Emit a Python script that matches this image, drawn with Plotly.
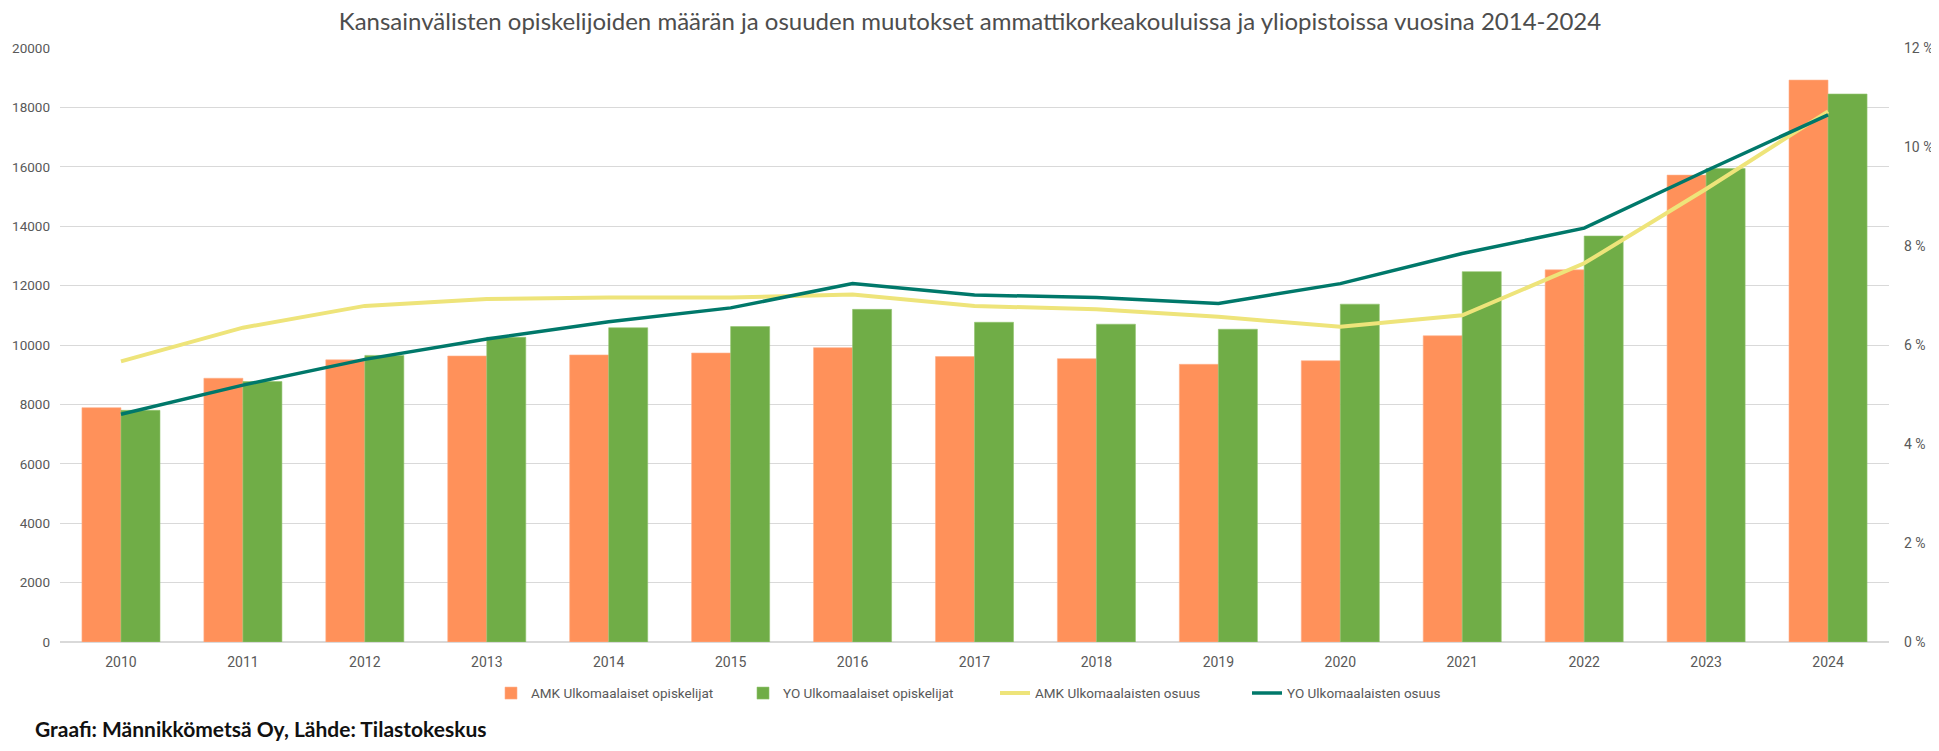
import plotly.graph_objects as go

years = [str(y) for y in range(2010, 2025)]
amk_students = [7890, 8880, 9500, 9630, 9665, 9730, 9910, 9610, 9540, 9350, 9470, 10310, 12530, 15720, 18920]
yo_students = [7800, 8770, 9650, 10260, 10580, 10620, 11200, 10765, 10700, 10530, 11375, 12470, 13670, 15945, 18450]
amk_share = [5.67, 6.35, 6.79, 6.93, 6.96, 6.96, 7.02, 6.79, 6.72, 6.57, 6.37, 6.60, 7.65, 9.15, 10.72]
yo_share = [4.60, 5.19, 5.71, 6.12, 6.47, 6.75, 7.24, 7.01, 6.96, 6.84, 7.24, 7.85, 8.36, 9.52, 10.65]

left_ticks = list(range(0, 20001, 2000))
right_ticks = list(range(0, 13, 2))
right_labels = [f"{v} %" for v in right_ticks]

title_text = "Kansainvälisten opiskelijoiden määrän ja osuuden muutokset ammattikorkeakouluissa ja yliopistoissa vuosina 2014-2024"
source_text = "Graafi: Männikkömetsä Oy, Lähde: Tilastokeskus"

tick_font = dict(family="Roboto, Arial, sans-serif", size=14, color="#595959")
left_tick_font = dict(family="Roboto, Arial, sans-serif", size=13.5, color="#595959")

# page body adds an 8 px offset, so the figure is 8 px smaller than the window
OFF = 8
W, H = 1939 - OFF, 751 - OFF
L, R, T = 60 - OFF, 1939 - 1889, 48 - OFF
BOTTOM_Y = 641.7 - OFF
B = H - BOTTOM_Y
PW, PH = W - L - R, H - T - B

fig = go.Figure()
fig.add_trace(go.Bar(x=years, y=amk_students, name="AMK Ulkomaalaiset opiskelijat",
                     marker=dict(color="#FF915A", line=dict(color="#FFB08A", width=0.6))))
fig.add_trace(go.Bar(x=years, y=yo_students, name="YO Ulkomaalaiset opiskelijat",
                     marker=dict(color="#70AD47", line=dict(color="#92C46E", width=0.6))))
fig.add_trace(go.Scatter(x=years, y=amk_share, name="AMK Ulkomaalaisten osuus", yaxis="y2",
                         mode="lines", line=dict(color="#EEE47A", width=4)))
fig.add_trace(go.Scatter(x=years, y=yo_share, name="YO Ulkomaalaisten osuus", yaxis="y2",
                         mode="lines", line=dict(color="#00786A", width=3.5)))

fig.update_layout(
    width=W, height=H,
    margin=dict(l=L, r=R, t=T, b=B, autoexpand=False),
    paper_bgcolor="white", plot_bgcolor="white",
    barmode="group", bargap=0.36, bargroupgap=0,
    title=dict(text=title_text, x=(970 - OFF) / W, xref="container", xanchor="center",
               y=1 - 14 / H, yref="container", yanchor="middle",
               font=dict(family="Lato, sans-serif", size=24, color="#4D4D4D")),
    xaxis=dict(tickfont=tick_font, showgrid=False, showline=False, ticks="",
               ticklabelstandoff=10, automargin=False),
    yaxis=dict(range=[0, 20000], tickvals=left_ticks, tickformat="d", tickfont=left_tick_font,
               showgrid=True, gridcolor="#D9D9D9", gridwidth=1,
               zeroline=True, zerolinecolor="#D9D9D9", zerolinewidth=2,
               ticklabelstandoff=9, automargin=False),
    yaxis2=dict(range=[0, 12], tickvals=right_ticks, ticktext=right_labels, overlaying="y",
                side="right", showgrid=False, zeroline=False, tickfont=tick_font,
                ticklabelstandoff=14, automargin=False),
    legend=dict(orientation="h", x=(995 - OFF - L) / PW, xanchor="center",
                y=(641.7 - 693) / PH, yanchor="middle",
                font=dict(family="Roboto, Arial, sans-serif", size=13.5, color="#595959"),
                traceorder="normal", itemwidth=30,
                entrywidthmode="pixels", entrywidth=207),
    showlegend=True,
    annotations=[dict(text=source_text, xref="paper", yref="paper",
                      x=(33 - OFF - L) / PW, y=(641.7 - 728) / PH,
                      xanchor="left", yanchor="middle", showarrow=False,
                      font=dict(family="Lato, sans-serif", size=21, color="#111111",
                                weight="bold"))],
)

fig.write_html("out.html")
